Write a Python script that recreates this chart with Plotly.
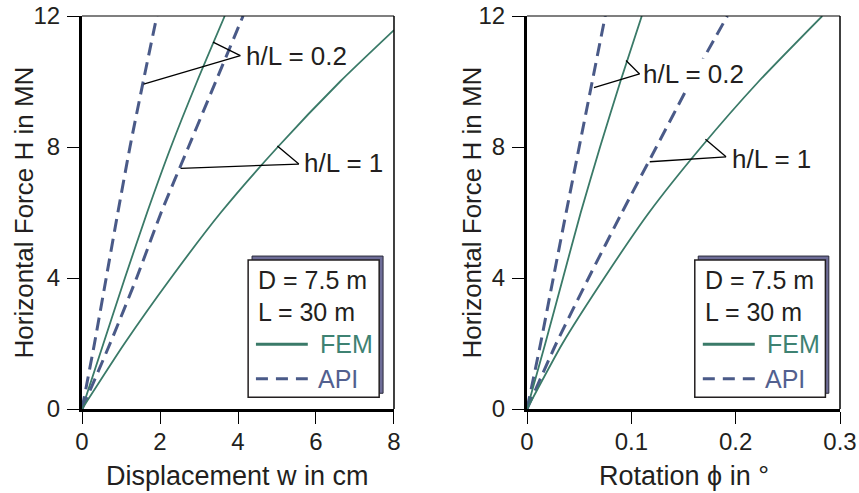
import plotly.graph_objects as go

# ---------------- data ----------------
H_levels = [0, 2, 4, 6, 8, 10, 12]

# Left panel: displacement w in cm
w_api_02 = [0, 0.32, 0.62, 0.92, 1.23, 1.57, 1.92]
w_fem_02 = [0, 0.55, 1.10, 1.67, 2.28, 2.95, 3.66]
w_api_1 = [0, 0.72, 1.40, 2.03, 2.73, 3.43, 4.13]
H_fem_1_w = [0, 2, 4, 6, 8, 10, 11.57]
w_fem_1 = [0, 1.09, 2.28, 3.56, 5.02, 6.62, 8.0]

# Right panel: rotation phi in degrees
phi_api_02 = [0, 0.013, 0.0252, 0.0375, 0.050, 0.0625, 0.075]
phi_fem_02 = [0, 0.0175, 0.0345, 0.0515, 0.070, 0.0895, 0.110]
phi_api_1 = [0, 0.028, 0.059, 0.091, 0.124, 0.157, 0.192]
phi_fem_1 = [0, 0.034, 0.074, 0.117, 0.167, 0.222, 0.283]

x_ticks_w = [0, 2, 4, 6, 8]
x_ticks_phi = [0, 0.1, 0.2, 0.3]
x_ticklabels_phi = ["0", "0.1", "0.2", "0.3"]
y_ticks = [0, 4, 8, 12]

x_title_left = "Displacement w in cm"
x_title_right = "Rotation ϕ in °"
y_title = "Horizontal Force H in MN"

legend_lines = ["D = 7.5 m", "L = 30 m"]
series_names = ["FEM", "API"]

FEM_C = "#3a7a68"
API_C = "#4a5a88"
FEM_TXT = "#3e8272"
API_TXT = "#52608f"
FONT = "Liberation Sans, Arial, sans-serif"
TXT = "#231f20"

fig = go.Figure()

def add_curve(x, y, color, dash, width, xa, ya):
    fig.add_trace(go.Scatter(x=x, y=y, mode="lines", xaxis=xa, yaxis=ya,
                             line=dict(color=color, dash=dash, width=width, shape="spline", smoothing=0.6),
                             showlegend=False, hoverinfo="skip"))

DASH = "13px,7px"
add_curve(w_api_02, H_levels, API_C, DASH, 3, "x", "y")
add_curve(w_fem_02, H_levels, FEM_C, "solid", 1.8, "x", "y")
add_curve(w_api_1, H_levels, API_C, DASH, 3, "x", "y")
add_curve(w_fem_1, H_fem_1_w, FEM_C, "solid", 1.8, "x", "y")

add_curve(phi_api_02, H_levels, API_C, DASH, 3, "x2", "y2")
add_curve(phi_fem_02, H_levels, FEM_C, "solid", 1.8, "x2", "y2")
add_curve(phi_api_1, H_levels, API_C, DASH, 3, "x2", "y2")
add_curve(phi_fem_1, H_levels, FEM_C, "solid", 1.8, "x2", "y2")

shapes = []
annotations = []

# top/right thin frame lines
for xr, yr in [("x domain", "y domain"), ("x2 domain", "y2 domain")]:
    shapes.append(dict(type="line", xref=xr, yref=yr, x0=0, x1=1, y0=1, y1=1,
                       line=dict(color="black", width=1.2), layer="above"))
    shapes.append(dict(type="line", xref=xr, yref=yr, x0=1, x1=1, y0=0, y1=1,
                       line=dict(color="black", width=1.5), layer="above"))

def pointer(xr, yr, vx, vy, p1, p2):
    for (px, py) in (p1, p2):
        shapes.append(dict(type="line", xref=xr, yref=yr, x0=vx, y0=vy, x1=px, y1=py,
                           line=dict(color="black", width=1.3), layer="above"))

# left pointers
pointer("x", "y", 4.06, 10.79, (3.36, 11.2), (1.58, 9.92))
pointer("x", "y", 5.56, 7.48, (5.01, 8.03), (2.53, 7.35))
# right pointers
pointer("x2", "y2", 0.1079, 10.23, (0.0949, 10.64), (0.0642, 9.81))
pointer("x2", "y2", 0.1908, 7.70, (0.1710, 8.24), (0.1176, 7.55))

def label(xr, yr, x, y, text, bg=None):
    a = dict(xref=xr, yref=yr, x=x, y=y, text=text, showarrow=False,
             xanchor="left", yanchor="middle", font=dict(family=FONT, size=26, color=TXT))
    if bg:
        a["bgcolor"] = bg
        a["borderpad"] = 0
    annotations.append(a)

label("x", "y", 4.15, 10.78, "h/L = 0.2")
label("x", "y", 5.63, 7.50, "h/L = 1")
label("x2", "y2", 0.1105, 10.23, "h/L = 0.2", bg="white")
label("x2", "y2", 0.1945, 7.62, "h/L = 1")

def legend_box(xr, yr, x0, x1, dx, y0, y1, dy, tx, lx0, lx1, sx, sx2):
    shapes.append(dict(type="rect", xref=xr, yref=yr, x0=x0 + dx, x1=x1 + dx, y0=y0 + dy, y1=y1 + dy,
                       fillcolor="#6e6d98", line=dict(color="#2a2a3a", width=1), layer="above"))
    shapes.append(dict(type="rect", xref=xr, yref=yr, x0=x0, x1=x1, y0=y0, y1=y1,
                       fillcolor="white", line=dict(color="#231f20", width=1.5), layer="above"))
    for txt, yy in zip(legend_lines, [3.94, 2.97]):
        annotations.append(dict(xref=xr, yref=yr, x=tx, y=yy, text=txt, showarrow=False,
                                xanchor="left", yanchor="middle",
                                font=dict(family=FONT, size=25, color=TXT)))
    shapes.append(dict(type="line", xref=xr, yref=yr, x0=lx0, x1=lx1, y0=1.98, y1=1.98,
                       line=dict(color=FEM_C, width=3), layer="above"))
    shapes.append(dict(type="line", xref=xr, yref=yr, x0=lx0, x1=lx1, y0=0.92, y1=0.92,
                       line=dict(color=API_C, width=3, dash="12px,8px"), layer="above"))
    annotations.append(dict(xref=xr, yref=yr, x=sx, y=1.98, text=series_names[0], showarrow=False,
                            xanchor="left", yanchor="middle", font=dict(family=FONT, size=25, color=FEM_TXT)))
    annotations.append(dict(xref=xr, yref=yr, x=sx2, y=0.92,
                            text=series_names[1], showarrow=False,
                            xanchor="left", yanchor="middle", font=dict(family=FONT, size=25, color=API_TXT)))

legend_box("x", "y", 4.26, 7.62, 0.10, 0.36, 4.55, 0.12, 4.47, 4.46, 5.79, 6.05, 6.0)
legend_box("x2", "y2", 0.1608, 0.286, 0.0033, 0.36, 4.55, 0.12, 0.1685, 0.1685, 0.2183, 0.2279, 0.2260)

# axis titles (placed as annotations for exact positioning)
for xr, yr, txt in [("x domain", "y domain", x_title_left), ("x2 domain", "y2 domain", x_title_right)]:
    annotations.append(dict(xref=xr, yref=yr, x=0.5, y=-0.17, text=txt, showarrow=False,
                            xanchor="center", yanchor="middle",
                            font=dict(family=FONT, size=27, color=TXT)))
for xr, yr, xpos in [("x domain", "y domain", -59.0 / 312), ("x2 domain", "y2 domain", -56.0 / 313)]:
    annotations.append(dict(xref=xr, yref=yr, x=xpos, y=0.5, text=y_title, showarrow=False,
                            textangle=-90, xanchor="center", yanchor="middle",
                            font=dict(family=FONT, size=26, color=TXT)))

axis_common = dict(showgrid=False, zeroline=False, showline=True, linecolor="black", linewidth=3,
                   ticks="outside", ticklen=12, tickwidth=1.2, tickcolor="black",
                   tickfont=dict(family=FONT, size=24, color=TXT), mirror=False)

fig.update_layout(
    width=859, height=493,
    margin=dict(l=82, r=19, t=16, b=84),
    paper_bgcolor="white", plot_bgcolor="white",
    showlegend=False,
    xaxis=dict(domain=[0, 0.4116], range=[0, 8], tickvals=x_ticks_w, anchor="y", ticklabelstandoff=-3,
               **axis_common),
    yaxis=dict(domain=[0, 1], range=[0, 12], tickvals=y_ticks, anchor="x", ticklabelstandoff=2,
               **axis_common),
    xaxis2=dict(domain=[0.5871, 1], range=[0, 0.3], tickvals=x_ticks_phi, ticktext=x_ticklabels_phi, anchor="y2",
                ticklabelstandoff=-3, **axis_common),
    yaxis2=dict(domain=[0, 1], range=[0, 12], tickvals=y_ticks, anchor="x2", ticklabelstandoff=2,
                **axis_common),
    shapes=shapes,
    annotations=annotations,
)
fig.update_xaxes(automargin=False)
fig.update_yaxes(automargin=False)

# remove the browser's default 8px body margin so the figure sits at the page origin
fig.write_html("out.html", config={"displayModeBar": False},
               post_script="document.body.style.margin='0px';")
